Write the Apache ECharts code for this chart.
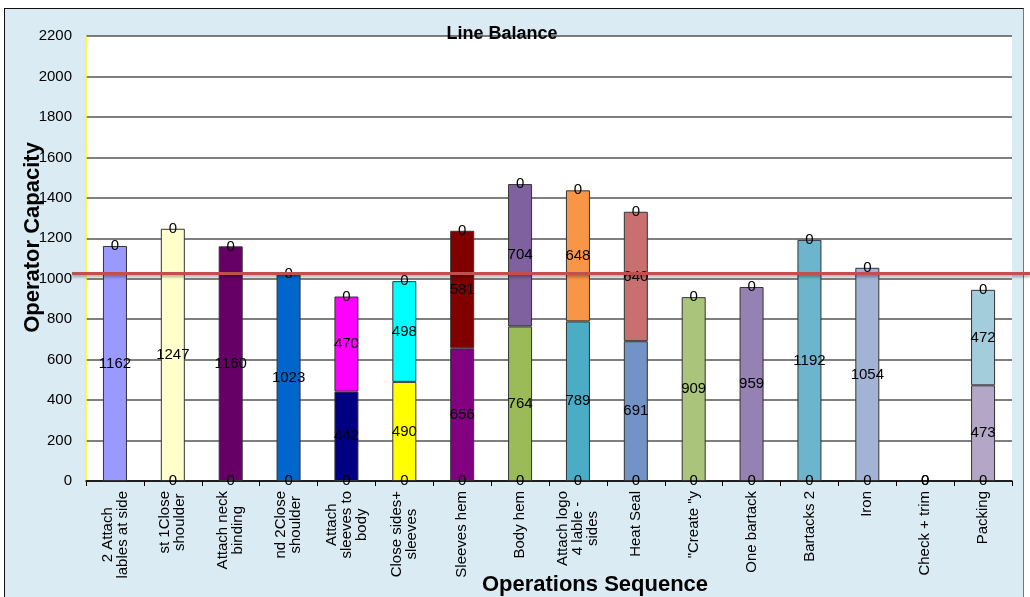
<!DOCTYPE html>
<html>
<head>
<meta charset="utf-8">
<script src="https://cdn.jsdelivr.net/npm/echarts@6/dist/echarts.min.js"></script>
<style>
  html, body { margin: 0; padding: 0; background: #ffffff; }
  #wrap { position: relative; width: 1030px; height: 597px; overflow: hidden; }
  #frame { position: absolute; left: 4px; top: 8px; width: 1018px; height: 600px;
           background: #dbebf3; border-left: 1px solid #111; border-top: 1px solid #111; border-right: 1px solid #777; }
  #chart { position: absolute; left: 0; top: 0; width: 1030px; height: 597px; }
</style>
</head>
<body>
<div id="wrap">
  <div id="frame"></div>
  <div id="chart"></div>
</div>
<script>
// ---- data ----
const categories = [
  "2 Attach\nlables at side",
  "st 1Close\nshoulder",
  "Attach neck\nbinding",
  "nd 2Close\nshoulder",
  "Attach\nsleeves to\nbody",
  "Close sides+\nsleeves",
  "Sleeves hem",
  "Body hem",
  "Attach logo\n4 lable -\nsides",
  "Heat Seal",
  "\"Create \"y",
  "One bartack",
  "Bartacks 2",
  "Iron",
  "Check + trim",
  "Packing"
];
const zeroBase  = [null, 0, 0, 0, 0, 0, 0, 0, 0, 0, 0, 0, 0, 0, 0, 0];
const lowerPart = [1162, 1247, 1160, 1023, 442, 490, 656, 764, 789, 691, 909, 959, 1192, 1054, null, 473];
const upperPart = [null, null, null, null, 470, 498, 581, 704, 648, 640, null, null, null, null, null, 472];
const zeroTop   = [0, 0, 0, 0, 0, 0, 0, 0, 0, 0, 0, 0, 0, 0, 0, 0];
const taktLine  = 1028;
const yTicks = { min: 0, max: 2200, interval: 200 };

// ---- colours ----
const lowerColors = ['#9999ff', '#ffffcc', '#660066', '#0066cc', '#000080', '#ffff00', '#800080', '#9bbb59',
                     '#4bacc6', '#7293c6', '#aac47c', '#9581b2', '#6db5cd', '#a2b3d5', '#cccccc', '#b3a6c7'];
const upperColors = ['#ffffff', '#ffffff', '#ffffff', '#ffffff', '#ff00ff', '#00ffff', '#800000', '#7f619f',
                     '#f79646', '#c87070', '#ffffff', '#ffffff', '#ffffff', '#ffffff', '#ffffff', '#a4cddc'];

const FONT = '"Liberation Sans", Arial, sans-serif';
const chart = echarts.init(document.getElementById('chart'));

const labelStyle = { show: true, position: 'inside', color: '#000', fontSize: 15, fontFamily: FONT };
const barW = 24;

function coloredData(values, colors, border) {
  return values.map((v, i) => ({
    value: v,
    itemStyle: { color: colors[i], borderColor: border, borderWidth: 1 }
  }));
}

chart.setOption({
  backgroundColor: 'transparent',
  animation: false,
  title: {
    text: 'Line Balance',
    left: 497, top: 20, textAlign: 'center',
    textStyle: { fontFamily: FONT, fontSize: 18, fontWeight: 'bold', color: '#000' }
  },
  grid: [
    { left: 86, right: 18, top: 36, bottom: 116, show: true, backgroundColor: '#ffffff', borderWidth: 0,
      containLabel: false, outerBoundsMode: 'none' },
    { left: 72, right: 0, top: 36, bottom: 116, show: false, containLabel: false, outerBoundsMode: 'none' }
  ],
  xAxis: [
    {
      type: 'category', data: categories, gridIndex: 0,
      name: 'Operations Sequence', nameLocation: 'middle', nameGap: 93, nameMoveOverlap: false,
      nameTextStyle: { fontFamily: FONT, fontSize: 22, fontWeight: 'bold', color: '#000', padding: [0, 0, 0, 92] },
      axisLine: { lineStyle: { color: '#000', width: 1.5 } },
      axisTick: { show: true, length: 5, lineStyle: { color: '#000' } },
      axisLabel: {
        rotate: 90, interval: 0, margin: 10, color: '#000', fontFamily: FONT, fontSize: 15,
        formatter: function (v) { return v.split('\n').map(s => '{c|' + s + '}').join('\n'); },
        rich: { c: { align: 'center', fontFamily: FONT, fontSize: 15, lineHeight: 15, color: '#000' } }
      }
    },
    { type: 'value', gridIndex: 1, show: false, min: 0, max: 1 }
  ],
  yAxis: [
    {
      type: 'value', gridIndex: 0, min: yTicks.min, max: yTicks.max, interval: yTicks.interval,
      name: 'Operator Capacity', nameLocation: 'middle', nameGap: 42, nameMoveOverlap: false,
      nameTextStyle: { fontFamily: FONT, fontSize: 22, fontWeight: 'bold', color: '#000', padding: [0, 0, 0, 42] },
      axisLine: { show: true, lineStyle: { color: '#ffff00', width: 1.5 } },
      axisTick: { show: false },
      axisLabel: { color: '#000', fontFamily: FONT, fontSize: 15, margin: 14,
                   formatter: function (v) { return String(v); } },
      splitLine: { lineStyle: { color: '#555', width: 1.5 } }
    },
    { type: 'value', gridIndex: 1, show: false, min: yTicks.min, max: yTicks.max }
  ],
  series: [
    {
      name: 'base0', type: 'bar', stack: 's', barWidth: barW, xAxisIndex: 0, yAxisIndex: 0,
      data: zeroBase, itemStyle: { color: 'transparent' },
      label: Object.assign({}, labelStyle), z: 3
    },
    {
      name: 'lower', type: 'bar', stack: 's', barWidth: barW,
      data: coloredData(lowerPart, lowerColors, '#333'),
      label: Object.assign({}, labelStyle), z: 2
    },
    {
      name: 'upper', type: 'bar', stack: 's', barWidth: barW,
      data: coloredData(upperPart, upperColors, '#333'),
      label: Object.assign({}, labelStyle), z: 2
    },
    {
      name: 'top0', type: 'bar', stack: 's', barWidth: barW,
      data: zeroTop, itemStyle: { color: 'transparent' },
      label: Object.assign({}, labelStyle), z: 3
    },
    {
      name: 'takt', type: 'line', xAxisIndex: 1, yAxisIndex: 1, data: [], z: 10,
      markLine: {
        symbol: 'none', silent: true, z: 10,
        label: { show: false },
        lineStyle: { color: '#c0504d', width: 3, type: 'solid',
                     shadowColor: 'rgba(0,0,0,0.35)', shadowBlur: 3, shadowOffsetY: 2 },
        data: [{ yAxis: taktLine }]
      }
    }
  ]
});
</script>
</body>
</html>
